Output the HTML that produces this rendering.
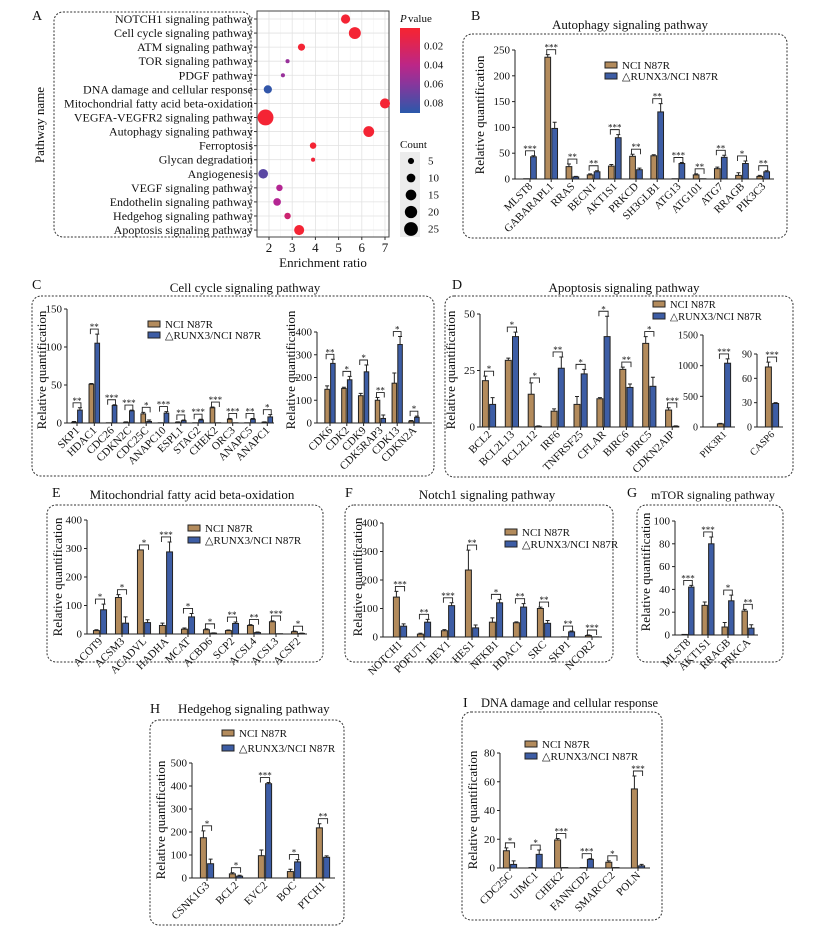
<!DOCTYPE html>
<html><head><meta charset="utf-8"><style>
html,body{margin:0;padding:0;background:#fff}
svg{display:block;font-family:"Liberation Serif",serif}
</style></head><body>
<svg id="fig" width="828" height="935" viewBox="0 0 828 935" xmlns="http://www.w3.org/2000/svg"></svg>
<script>
// ---------- Panel A data ----------
const aPathways=["NOTCH1 signaling pathway","Cell cycle signaling pathway","ATM signaling pathway","TOR signaling pathway","PDGF pathway","DNA damage and cellular response","Mitochondrial fatty acid beta-oxidation","VEGFA-VEGFR2 signaling pathway","Autophagy signaling pathway","Ferroptosis","Glycan degradation","Angiogenesis","VEGF signaling pathway","Endothelin signaling pathway","Hedgehog signaling pathway","Apoptosis signaling pathway"];
const aRatio=[5.3,5.7,3.4,2.8,2.6,1.95,7.0,1.85,6.3,3.9,3.9,1.75,2.45,2.35,2.8,3.3];
const aCount=[10,17,6,2,2,8,12,30,14,5,2,11,5,7,5,12];
const aPval=[0.004,0.004,0.004,0.055,0.055,0.088,0.004,0.004,0.004,0.004,0.006,0.075,0.045,0.045,0.03,0.004];
const aXTicks=[2,3,4,5,6,7];
const aPTicks=[0.02,0.04,0.06,0.08];
const aCountTicks=[5,10,15,20,25];
// ---------- Bar panel data ----------
const bCats=["MLST8","GABARAPL1","RRAS","BECN1","AKT1S1","PRKCD","SH3GLB1","ATG13","ATG101","ATG7","RRAGB","PIK3C3"];
const bNci=[0.5,236,24,8,25,44,45,0.5,8,20,7,5];
const bRunx=[43,98,4,14,80,18,130,30,0.5,42,30,14];
const bNciErr=[0,5,5,2,3,4,2,0,2,3,5,2];
const bRunxErr=[2,12,1,2,6,3,16,2,0,4,5,2];
const bSig=["***","***","**","**","***","**","**","***","**","**","*","**"];
const bTicks=[0,50,100,150,200,250];

const c1Cats=["SKP1","HDAC1","CDC26","CDKN2C","CDC25C","ANAPC10","ESPL1","STAG2","CHEK2","ORC3","ANAPC5","ANAPC1"];
const c1Nci=[1,51,0.3,1,12,0.3,1,0.3,20,5,0.3,1];
const c1Runx=[17,105,23,16,2,13,3,4,0.3,0.3,5,8];
const c1NciErr=[1,1,0,0.5,2,0,0.5,0,1,1,0,0.5];
const c1RunxErr=[3,12,1,1,2,2,1,1,0,0,1,3];
const c1Sig=["**","**","***","***","*","***","**","***","***","***","**","*"];
const c1Ticks=[0,50,100,150];

const c2Cats=["CDK6","CDK2","CDK9","CDK5RAP3","CDK13","CDKN2A"];
const c2Nci=[148,152,120,100,175,8];
const c2Runx=[262,190,225,20,345,25];
const c2NciErr=[15,5,10,12,45,3];
const c2RunxErr=[18,15,30,15,35,5];
const c2Sig=["**","*","*","**","*","*"];
const c2Ticks=[0,100,200,300,400];

const d1Cats=["BCL2","BCL2L13","BCL2L12","IRF6","TNFRSF25","CFLAR","BIRC6","BIRC5","CDKN2AIP"];
const d1Nci=[20.5,29.5,14.5,7,10,12.5,25.5,37,7.5];
const d1Runx=[10,40,0.3,26,23.5,40,17.5,18,0.3];
const d1NciErr=[2,1,5,1,3.5,0.5,1,3,1];
const d1RunxErr=[3,2,0.2,5,2,9,1.5,4,0.2];
const d1Sig=["*","*","*","**","*","*","**","*","***"];
const d1Ticks=[0,25,50];

const d2Cats=["PIK3R1"];const d2Nci=[50];const d2Runx=[1040];const d2NciErr=[10];const d2RunxErr=[70];const d2Sig=["***"];const d2Ticks=[0,500,1000,1500];
const d3Cats=["CASP6"];const d3Nci=[74];const d3Runx=[29];const d3NciErr=[6];const d3RunxErr=[1];const d3Sig=["***"];const d3Ticks=[0,30,60,90];

const eCats=["ACOT9","ACSM3","ACADVL","HADHA","MCAT","ACBD6","SCP2","ACSL4","ACSL3","ACSF2"];
const eNci=[12,128,295,30,17,15,12,30,43,8];
const eRunx=[85,38,40,288,60,3,37,5,1,2];
const eNciErr=[3,10,0,8,4,3,2,3,3,2];
const eRunxErr=[20,22,10,35,12,1,5,2,0,1];
const eSig=["*","*","*","***","*","*","**","**","***","*"];
const eTicks=[0,100,200,300,400];

const fCats=["NOTCH1","POFUT1","HEY1","HES1","NFKB1","HDAC1","SRC","SKP1","NCOR2"];
const fNci=[140,10,22,235,52,50,100,0.5,5];
const fRunx=[38,52,110,32,120,105,48,18,0.5];
const fNciErr=[20,3,4,70,15,3,5,0,2];
const fRunxErr=[8,10,10,10,12,12,10,3,0];
const fSig=["***","**","***","**","*","**","**","**","***"];
const fTicks=[0,100,200,300,400];

const gCats=["MLST8","AKT1S1","RRAGB","PRKCA"];
const gNci=[0.5,26,7,21];
const gRunx=[42,80,30,6];
const gNciErr=[0,3,4,1.5];
const gRunxErr=[1.5,6,5,3];
const gSig=["***","***","*","**"];
const gTicks=[0,20,40,60,80,100];

const hCats=["CSNK1G3","BCL2","EVC2","BOC","PTCH1"];
const hNci=[175,18,97,28,218];
const hRunx=[62,8,410,70,90];
const hNciErr=[30,5,25,10,18];
const hRunxErr=[20,4,5,10,6];
const hSig=["*","*","***","*","**"];
const hTicks=[0,100,200,300,400,500];

const iCats=["CDC25C","UIMC1","CHEK2","FANNCD2","SMARCC2","POLN"];
const iNci=[12,0.3,19.5,0.3,4,55];
const iRunx=[2.5,9.5,0.3,6,0.3,1.5];
const iNciErr=[2,0,1,0,1,9];
const iRunxErr=[2.5,3,0,0.5,0,1];
const iSig=["*","*","***","***","*","***"];
const iTicks=[0,20,40,60,80];

const NS="http://www.w3.org/2000/svg";
const svg=document.getElementById('fig');
const TAN="#b38b5c",BLUE="#3d5da5",INK="#222";
function mk(tag,attrs,parent,txt){const e=document.createElementNS(NS,tag);for(const k in attrs)e.setAttribute(k,attrs[k]);if(txt!==undefined)e.textContent=txt;(parent||svg).appendChild(e);return e;}
function group(name){const g=mk('g',{});


return g;}
function txt(p,x,y,s,size,name,extra){const t=mk('text',Object.assign({x:x,y:y,'font-size':size,fill:'#111'},extra||{}),p,s);


return t;}
function box(p,x,y,w,h,name){const r=mk('rect',{x:x,y:y,width:w,height:h,rx:9,fill:'none',stroke:'#333','stroke-width':1,'stroke-dasharray':'2,1.6'},p);

}

// ---------- Panel A ----------
(function(){
const g=group('panel-a-bubble-chart');
txt(g,32,20,'A',14,'panel-label-a');
box(g,54,12,197,225,'pathway-label-box');
const L=257,R=389,T=11,B=237;
const xs=v=>269+(v-2)*23.2;
const ys=i=>19+i*14.07;
for(let v=1.5;v<=7.5;v+=0.5){const x=xs(v);if(x>L&&x<R){const l=mk('line',{x1:x,x2:x,y1:T,y2:B,stroke:v%1?'#f1f1f1':'#e2e2e2','stroke-width':v%1?0.5:0.8},g);

}}
aPathways.forEach((p,i)=>{const l=mk('line',{x1:L,x2:R,y1:ys(i),y2:ys(i),stroke:'#e2e2e2','stroke-width':0.8},g);


txt(g,L-4,ys(i)+4,p,12,'pathway-label',{'text-anchor':'end'});
mk('line',{x1:L-3,x2:L,y1:ys(i),y2:ys(i),stroke:'#333'},g);});
const fr=mk('rect',{x:L,y:T,width:R-L,height:B-T,fill:'none',stroke:'#444','stroke-width':1},g);


function col(p){let t=Math.max(0,Math.min(1,(p-0.003)/0.087));let a,b,u;
if(t<0.5){a=[246,36,50];b=[178,38,150];u=t/0.5;}else{a=[178,38,150];b=[44,88,170];u=(t-0.5)/0.5;}
return 'rgb('+a.map((c,k)=>Math.round(c+(b[k]-c)*u)).join(',')+')';}
const rad=c=>1.45*Math.sqrt(c);
aRatio.forEach((v,i)=>{const c=mk('circle',{cx:xs(v),cy:ys(i),r:rad(aCount[i]),fill:col(aPval[i])},g);

});
aXTicks.forEach(v=>{mk('line',{x1:xs(v),x2:xs(v),y1:B,y2:B+3,stroke:'#333'},g);txt(g,xs(v),B+15,String(v),13,'x-tick-label',{'text-anchor':'middle'});});
txt(g,323,267,'Enrichment ratio',13,'x-axis-title',{'text-anchor':'middle'});
txt(g,44,125,'Pathway name',13,'y-axis-title',{'text-anchor':'middle',transform:'rotate(-90 44 125)'});
const defs=mk('defs',{},g);const lg=mk('linearGradient',{id:'pg',x1:0,y1:0,x2:0,y2:1},defs);
[0,0.01,0.02,0.04,0.06,0.08,0.09].forEach(p=>mk('stop',{offset:(Math.max(0,(46+(p-0.02)*950)-28)/85),'stop-color':col(p)},lg));
txt(g,400,22,'P',11,'legend-title-p',{'font-style':'italic'});txt(g,408,22,' value',11,'legend-title-value');
const cb=mk('rect',{x:400,y:28,width:20,height:85,fill:'url(#pg)'},g);


aPTicks.forEach(p=>{const y=46+(p-0.02)*950;txt(g,424,y+3.5,p.toFixed(2),11,'colorbar-tick-label');});
txt(g,400,148,'Count',11,'size-legend-title');
const lb=mk('rect',{x:400,y:152,width:20,height:85,fill:'#ececec'},g);


aCountTicks.forEach((c,k)=>{const y=161+k*17;const cc=mk('circle',{cx:411,cy:y,r:rad(c)*0.95,fill:'#000'},g);


txt(g,428,y+3.5,String(c),11,'size-legend-label');});
})();

// ---------- bar chart helper ----------
function barChart(o){
const g=group(o.name);
const vmax=o.ticks[o.ticks.length-1];
const ys=v=>o.y0-v*(o.y0-o.yTop)/vmax;
const cx=i=>o.x0+i*o.sp;
const bw=o.bw||Math.min(6,o.sp*0.27);
const fs=o.fs||11;
const al=mk('line',{x1:o.ax,x2:o.ax,y1:o.y0,y2:o.yTop,stroke:INK,'stroke-width':1},g);


o.ticks.forEach(t=>{mk('line',{x1:o.ax-3,x2:o.ax,y1:ys(t),y2:ys(t),stroke:INK},g);txt(g,o.ax-5,ys(t)+3.5,String(t),fs,'y-tick-label',{'text-anchor':'end'});});
const xl=mk('line',{x1:o.ax,x2:o.xEnd,y1:o.y0,y2:o.y0,stroke:INK,'stroke-width':1},g);


o.cats.forEach((c,i)=>{
 const x=cx(i);
 mk('line',{x1:x,x2:x,y1:o.y0,y2:o.y0+3,stroke:INK},g);
 txt(g,x+3,o.y0+8,c,fs,'x-tick-label-'+c.toLowerCase(),{'text-anchor':'end',transform:'rotate(-45 '+(x+3)+' '+(o.y0+8)+')'});
 const xa=x-bw-0.6,xb=x+0.6;
 const ya=ys(o.a[i]),yb=ys(o.b[i]);
 const ra=mk('rect',{x:xa,y:ya,width:bw,height:o.y0-ya,fill:TAN,stroke:INK,'stroke-width':1},g);
 
 
 const rb=mk('rect',{x:xb,y:yb,width:bw,height:o.y0-yb,fill:BLUE,stroke:INK,'stroke-width':1},g);
 
 
 const ea=ys(o.a[i]+o.ea[i]),eb=ys(o.b[i]+o.eb[i]);
 if(o.ea[i]>0){const e1=mk('path',{d:'M'+(xa+bw/2)+' '+ya+'V'+ea+'M'+(xa+bw/2-2)+' '+ea+'H'+(xa+bw/2+2),stroke:INK,fill:'none','stroke-width':1},g);
 
 }
 if(o.eb[i]>0){const e2=mk('path',{d:'M'+(xb+bw/2)+' '+yb+'V'+eb+'M'+(xb+bw/2-2)+' '+eb+'H'+(xb+bw/2+2),stroke:INK,fill:'none','stroke-width':1},g);
 
 }
 const top=Math.min(ea,eb)-5;
 const bx1=xa+bw/2-1,bx2=xb+bw/2+1;
 const br=mk('path',{d:'M'+bx1+' '+(top+5)+'V'+top+'H'+bx2+'V'+(top+5),stroke:INK,fill:'none','stroke-width':0.9},g);
 
 
 txt(g,(bx1+bx2)/2,top+1,o.sig[i],9,'significance-stars',{'text-anchor':'middle'});
});
if(o.ylx){txt(g,o.ylx,o.yly,'Relative quantification',13,'y-axis-title',{'text-anchor':'middle',transform:'rotate(-90 '+o.ylx+' '+o.yly+')'});}
}
function legend(x,y,gap,fs){
const g=group('legend');
const s1=mk('rect',{x:x,y:y-4,width:12,height:6,fill:TAN,stroke:INK},g);


txt(g,x+17,y+3,'NCI N87R',fs||11,'legend-entry-nci');
const s2=mk('rect',{x:x,y:y-4+gap,width:12,height:6,fill:BLUE,stroke:INK},g);


txt(g,x+17,y+3+gap,'\u25B3RUNX3/NCI N87R',fs||11,'legend-entry-runx3');
}
const pl=group('panel-labels');
// B
txt(pl,471,20,'B',14,'panel-label-b');
txt(pl,630,29,'Autophagy signaling pathway',13,'title-b',{'text-anchor':'middle'});
box(pl,463,34,324,204,'box-b');
barChart({name:'panel-b-chart',cats:bCats,a:bNci,b:bRunx,ea:bNciErr,eb:bRunxErr,sig:bSig,ticks:bTicks,ax:515,y0:179,yTop:50,x0:530,sp:21.2,xEnd:774,ylx:484,yly:115});
legend(605,66,11,11);
// C
txt(pl,32,289,'C',14,'panel-label-c');
txt(pl,245,292,'Cell cycle signaling pathway',13,'title-c',{'text-anchor':'middle'});
box(pl,32,296,402,180,'box-c');
barChart({name:'panel-c-left-chart',cats:c1Cats,a:c1Nci,b:c1Runx,ea:c1NciErr,eb:c1RunxErr,sig:c1Sig,ticks:c1Ticks,ax:67,y0:423,yTop:309,x0:77,sp:17.3,xEnd:274,ylx:46,yly:370});
barChart({name:'panel-c-right-chart',cats:c2Cats,a:c2Nci,b:c2Runx,ea:c2NciErr,eb:c2RunxErr,sig:c2Sig,ticks:c2Ticks,ax:317,y0:423,yTop:332,x0:330,sp:16.8,xEnd:432,ylx:295,yly:370});
legend(148,325,11,11);
// D
txt(pl,452,289,'D',14,'panel-label-d');
txt(pl,624,292,'Apoptosis signaling pathway',13,'title-d',{'text-anchor':'middle'});
box(pl,445,296,348,181,'box-d');
barChart({name:'panel-d-main-chart',cats:d1Cats,a:d1Nci,b:d1Runx,ea:d1NciErr,eb:d1RunxErr,sig:d1Sig,ticks:d1Ticks,ax:480,y0:427,yTop:314,x0:489,sp:22.9,xEnd:678,ylx:455,yly:370});
barChart({name:'panel-d-pik3r1-chart',cats:d2Cats,a:d2Nci,b:d2Runx,ea:d2NciErr,eb:d2RunxErr,sig:d2Sig,ticks:d2Ticks,ax:703,y0:427,yTop:335,x0:724,sp:20,xEnd:735,bw:6,fs:10});
barChart({name:'panel-d-casp6-chart',cats:d3Cats,a:d3Nci,b:d3Runx,ea:d3NciErr,eb:d3RunxErr,sig:d3Sig,ticks:d3Ticks,ax:757,y0:427,yTop:354,x0:772,sp:20,xEnd:783,bw:6,fs:10});
legend(653,305,12,10.5);
// E
txt(pl,52,497,'E',14,'panel-label-e');
txt(pl,192,499,'Mitochondrial fatty acid beta-oxidation',13,'title-e',{'text-anchor':'middle'});
box(pl,47,505,276,157,'box-e');
barChart({name:'panel-e-chart',cats:eCats,a:eNci,b:eRunx,ea:eNciErr,eb:eRunxErr,sig:eSig,ticks:eTicks,ax:87,y0:634,yTop:520,x0:100,sp:22,xEnd:307,ylx:62,yly:577});
legend(188,529,12,11);
// F
txt(pl,345,497,'F',14,'panel-label-f');
txt(pl,487,499,'Notch1 signaling pathway',13,'title-f',{'text-anchor':'middle'});
box(pl,345,505,268,157,'box-f');
barChart({name:'panel-f-chart',cats:fCats,a:fNci,b:fRunx,ea:fNciErr,eb:fRunxErr,sig:fSig,ticks:fTicks,ax:383,y0:637,yTop:523,x0:400,sp:24,xEnd:602,ylx:362,yly:577});
legend(505,533,12,11);
// G
txt(pl,627,497,'G',14,'panel-label-g');
txt(pl,713,499,'mTOR signaling pathway',12,'title-g',{'text-anchor':'middle'});
box(pl,637,505,146,157,'box-g');
barChart({name:'panel-g-chart',cats:gCats,a:gNci,b:gRunx,ea:gNciErr,eb:gRunxErr,sig:gSig,ticks:gTicks,ax:675,y0:635,yTop:521,x0:688,sp:20,xEnd:758,ylx:650,yly:572});
// H
txt(pl,150,713,'H',14,'panel-label-h');
txt(pl,178,713,'Hedgehog signaling pathway',13,'title-h');
box(pl,150,720,194,205,'box-h');
barChart({name:'panel-h-chart',cats:hCats,a:hNci,b:hRunx,ea:hNciErr,eb:hRunxErr,sig:hSig,ticks:hTicks,ax:192,y0:878,yTop:763,x0:207,sp:29,xEnd:335,ylx:165,yly:820});
legend(222,734,15,11);
// I
txt(pl,463,707,'I',14,'panel-label-i');
txt(pl,481,707,'DNA damage and cellular response',12.5,'title-i');
box(pl,462,712,200,208,'box-i');
barChart({name:'panel-i-chart',cats:iCats,a:iNci,b:iRunx,ea:iNciErr,eb:iRunxErr,sig:iSig,ticks:iTicks,ax:500,y0:868,yTop:753,x0:510,sp:25.6,xEnd:650,ylx:477,yly:810});
legend(525,745,12,11);
</script>
</body></html>
